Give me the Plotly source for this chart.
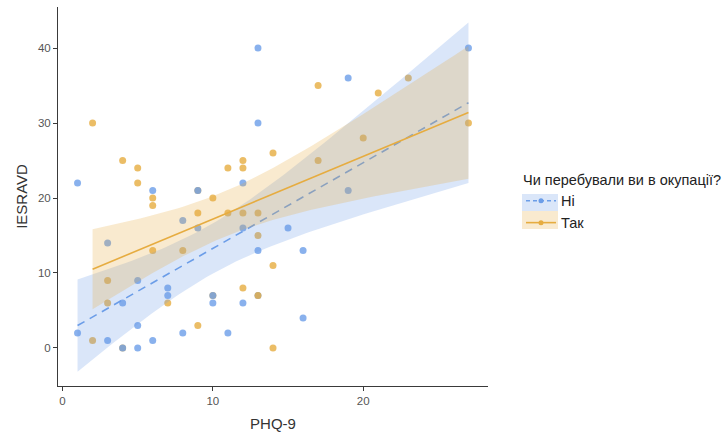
import numpy as np
import plotly.graph_objects as go

# Respondents: PHQ-9 score, IESRAVD score, and whether they lived under occupation
phq9 = [2, 4, 5, 5, 6, 6, 10, 11, 12, 12, 14, 17, 23, 21, 27, 20, 17, 9, 11, 12,
        13, 13, 6, 8, 3, 7, 3, 12, 9, 2, 14, 14, 9, 4, 10,
        13, 13, 1, 6, 9, 12, 19, 27, 19, 8, 9, 12, 13, 3, 5, 7, 7, 4, 10, 10,
        12, 5, 1, 3, 4, 5, 6, 8, 11, 15, 16, 16, 13,
        13]
iesravd = [30, 25, 24, 22, 20, 19, 20, 24, 25, 24, 26, 35, 36, 34, 30, 28, 25, 18, 18, 18,
           18, 15, 13, 13, 9, 6, 6, 8, 3, 1, 0, 11, 21, 0, 7,
           40, 30, 22, 21, 21, 22, 36, 40, 21, 17, 16, 16, 13, 14, 9, 8, 7, 6, 7, 6,
           6, 3, 2, 1, 0, 0, 1, 2, 2, 16, 13, 4, 7,
           7]
occupied = ["Так"] * 35 + ["Ні"] * 33 + ["Так"]

group_names = ["Ні", "Так"]
legend_title = "Чи перебували ви в окупації?"
x_title = "PHQ-9"
y_title = "IESRAVD"
x_ticks = [0, 10, 20]
y_ticks = [0, 10, 20, 30, 40]

COLORS = {"Ні": "#6B9DE8", "Так": "#E6AC40"}
DASHES = {"Ні": "8px,6px", "Так": "solid"}
KEY_DASHES = {"Ні": "4px,3px", "Так": "solid"}

FONT = "Liberation Sans, Arial, sans-serif"


def rgba(hex_color, a):
    h = hex_color.lstrip("#")
    r, g, b = int(h[0:2], 16), int(h[2:4], 16), int(h[4:6], 16)
    return f"rgba({r},{g},{b},{a})"


def t_quantile(df):
    # Cornish-Fisher expansion of Student's t (0.975) around the normal quantile
    z = 1.959963984540054
    return (z + (z**3 + z) / (4 * df)
            + (5 * z**5 + 16 * z**3 + 3 * z) / (96 * df**2)
            + (3 * z**7 + 19 * z**5 + 17 * z**3 - 15 * z) / (384 * df**3))


def linear_fit(x, y, n_grid=80):
    x = np.asarray(x, float)
    y = np.asarray(y, float)
    n = len(x)
    slope, intercept = np.polyfit(x, y, 1)
    resid = y - (intercept + slope * x)
    s = np.sqrt(np.sum(resid**2) / (n - 2))
    xm = x.mean()
    sxx = np.sum((x - xm) ** 2)
    grid = np.linspace(x.min(), x.max(), n_grid)
    fit = intercept + slope * grid
    se = s * np.sqrt(1.0 / n + (grid - xm) ** 2 / sxx)
    t = t_quantile(n - 2)
    return grid, fit, fit - t * se, fit + t * se


fig = go.Figure()

# raw points, drawn in respondent order
fig.add_trace(go.Scatter(
    x=phq9, y=iesravd, mode="markers", showlegend=False, hoverinfo="skip",
    marker=dict(color=[COLORS[g] for g in occupied], size=7, opacity=0.8,
                line=dict(width=0)),
))

# per-group linear fits with 95% confidence bands
for name in group_names:
    xs = [x for x, g in zip(phq9, occupied) if g == name]
    ys = [y for y, g in zip(iesravd, occupied) if g == name]
    col = COLORS[name]
    gx, fit, lo, hi = linear_fit(xs, ys)
    fig.add_trace(go.Scatter(
        x=np.concatenate([gx, gx[::-1]]), y=np.concatenate([hi, lo[::-1]]),
        mode="lines", fill="toself", fillcolor=rgba(col, 0.25),
        line=dict(width=0), showlegend=False, hoverinfo="skip",
    ))
    fig.add_trace(go.Scatter(
        x=gx, y=fit, mode="lines", showlegend=False, hoverinfo="skip",
        line=dict(color=col, width=1.6, dash=DASHES[name]),
    ))
    # legend key: line with a dot
    fig.add_trace(go.Scatter(
        x=[None], y=[None], mode="lines+markers", name=name,
        line=dict(color=col, width=1.6, dash=KEY_DASHES[name]),
        marker=dict(color=col, size=5),
    ))

# plot area in pixels
L, R, T, B = 58, 488, 7, 386
PW, PH = R - L, B - T

# shaded backgrounds behind the legend keys
legend_x = 521
key_rows = [("Ні", 194, 211), ("Так", 211, 229)]
shapes = []
for name, top, bottom in key_rows:
    shapes.append(dict(
        type="rect", xref="paper", yref="paper", layer="below",
        x0=(legend_x + 1 - L) / PW, x1=(legend_x + 37 - L) / PW,
        y0=(B - bottom) / PH, y1=(B - top) / PH,
        fillcolor=rgba(COLORS[name], 0.25), line=dict(width=0),
    ))

axis_col = "#3a3a3a"
tick_font = dict(family=FONT, size=11.5, color="#555555")
title_font = dict(family=FONT, size=15, color="#333333")

fig.update_layout(
    width=722, height=434,
    margin=dict(l=L, r=722 - R, t=T, b=434 - B, autoexpand=False),
    paper_bgcolor="white", plot_bgcolor="white",
    font=dict(family=FONT, color="#222222"),
    shapes=shapes,
    showlegend=True,
    legend=dict(
        x=(legend_x - L) / PW, xanchor="left",
        y=(B - 166) / PH, yanchor="top",
        bgcolor="rgba(0,0,0,0)", borderwidth=0,
        title=dict(text=legend_title, font=dict(family=FONT, size=14.5, color="#222222")),
        font=dict(family=FONT, size=14.5, color="#222222"),
        tracegroupgap=0, itemwidth=30,
    ),
    xaxis=dict(
        range=[-0.3, 28.3], tickvals=x_ticks, ticktext=[str(v) for v in x_ticks],
        showgrid=False, zeroline=False, showline=True, linecolor=axis_col, linewidth=1,
        ticks="outside", ticklen=4, tickcolor=axis_col, tickfont=tick_font,
        title=dict(text=x_title, font=title_font, standoff=12),
    ),
    yaxis=dict(
        range=[-5.07, 45.47], tickvals=y_ticks, ticktext=[str(v) for v in y_ticks],
        showgrid=False, zeroline=False, showline=True, linecolor=axis_col, linewidth=1,
        ticks="outside", ticklen=4, tickcolor=axis_col, tickfont=tick_font,
        title=dict(text=y_title, font=title_font, standoff=6),
    ),
)

fig.write_html("out.html")
